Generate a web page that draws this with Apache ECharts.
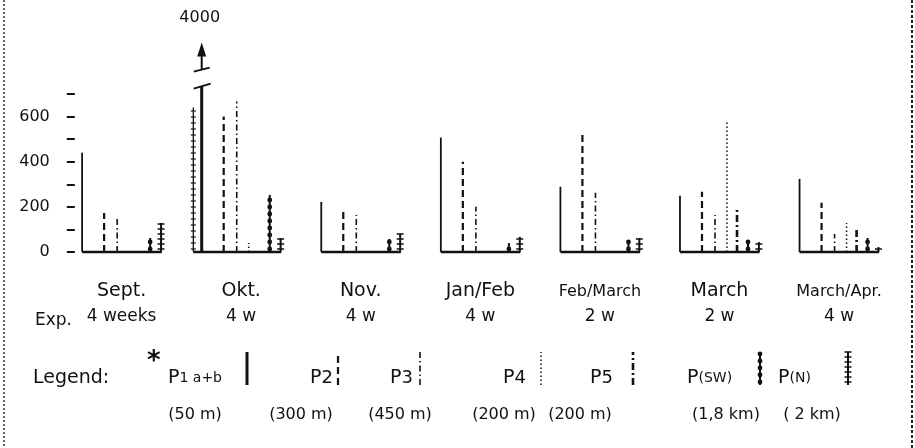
<!DOCTYPE html>
<html><head><meta charset="utf-8">
<script src="https://cdn.jsdelivr.net/npm/echarts@6/dist/echarts.min.js"></script>
<style>html,body{margin:0;padding:0;background:#fff}#c{width:915px;height:448px}</style>
</head><body><div id="c"></div>
<script>
// ---- data ----
const months = ['Sept.', 'Okt.', 'Nov.', 'Jan/Feb', 'Feb/March', 'March', 'March/Apr.'];
const durations = ['4 weeks', '4 w', '4 w', '4 w', '2 w', '2 w', '4 w'];
const p1  = [440, 4000, 222, 507, 289, 249, 324];
const p1b = [0, 640, 0, 0, 0, 0, 0];
const p2  = [173, 600, 187, 400, 520, 267, 218];
const p3  = [151, 667, 164, 200, 262, 164, 80];
const p4  = [0, 40, 0, 0, 0, 578, 129];
const p5  = [0, 0, 0, 0, 0, 196, 98];
const pSW = [62, 253, 58, 40, 53, 49, 62];
const pN  = [129, 62, 80, 67, 62, 44, 22];
const legendNames = ['P1 a+b', 'P2', 'P3', 'P4', 'P5', 'P(SW)', 'P(N)'];
const legendDist = ['(50 m)', '(300 m)', '(450 m)', '(200 m)', '(200 m)', '(1,8 km)', '( 2 km)'];

// ---- style / layout ----
const INK = '#111';
const FONT = 'DejaVu Sans';
const Y_MAX = 700;
const seriesDefs = [
  {name: 'P1',   data: p1,  kind: 'solid',    pos: -0.33},
  {name: 'P1b',  data: p1b, kind: 'ticked',   pos: -0.40},
  {name: 'P2',   data: p2,  kind: 'dashed',   pos: -0.146},
  {name: 'P3',   data: p3,  kind: 'dashdot',  pos: -0.037},
  {name: 'P4',   data: p4,  kind: 'dotted',   pos: 0.063},
  {name: 'P5',   data: p5,  kind: 'dashdot2', pos: 0.147},
  {name: 'P(SW)',data: pSW, kind: 'beaded',   pos: 0.239},
  {name: 'P(N)', data: pN,  kind: 'crossed',  pos: 0.33}
];
const legendKinds = ['solid', 'dashed', 'dashdot', 'dotted', 'dashdot2', 'beaded', 'crossed'];
const legendLabelX = [168, 310, 390, 503, 590, 687, 778];
const legendSymX = [247, 338, 420, 541, 633, 760, 848];
const legendDistX = [195, 301, 400, 504, 580, 726, 812];

function barShapes(kind, x, yb, yt, heavy) {
  const out = [];
  const ln = (x1, y1, x2, y2, w, dash) => out.push({type: 'line', shape: {x1, y1, x2, y2},
    style: {stroke: INK, lineWidth: w, lineDash: dash || null}});
  switch (kind) {
    case 'solid': ln(x, yb, x, yt, heavy ? 3 : 1.8); break;
    case 'ticked': ln(x, yb, x, yt, 1.3); for (let y = yb - 3; y > yt; y -= 6) ln(x - 2.5, y, x + 2.5, y, 1.2); break;
    case 'dashed': ln(x, yb, x, yt, 2.2, [7, 4]); break;
    case 'dashdot': ln(x, yb, x, yt, 1.6, [6, 3, 1.5, 3]); break;
    case 'dotted': ln(x, yb, x, yt, 1.5, [1.5, 2.5]); break;
    case 'dashdot2': ln(x, yb, x, yt, 2.6, [7, 3, 2, 3]); break;
    case 'beaded':
      ln(x, yb, x, yt, 2);
      for (let y = yb - 3; y >= yt; y -= 7) out.push({type: 'circle', shape: {cx: x, cy: y, r: 2.4}, style: {fill: INK}});
      break;
    case 'crossed':
      ln(x, yb, x, yt, 2);
      for (let y = yb - 3; y >= yt; y -= 5) ln(x - 3.5, y, x + 3.5, y, 1.5);
      break;
  }
  return out;
}

function makeRender(def) {
  return function (params, api) {
    const i = api.value(0), v = api.value(1);
    if (!v) return;
    const band = api.size([1, 0])[0];
    const base = api.coord([i, 0]);
    const x = base[0] + def.pos * band;
    const yb = base[1];
    const capped = v > Y_MAX;
    const yt = api.coord([i, capped ? Y_MAX * 1.047 : v])[1];
    const children = barShapes(def.kind, x, yb, yt, capped);
    if (capped) {
      const L = (x1, y1, x2, y2, w) => children.push({type: 'line', shape: {x1, y1, x2, y2}, style: {stroke: INK, lineWidth: w}});
      L(x - 8, yt + 2, x + 9, yt - 3, 1.8);
      L(x - 8, yt - 15, x + 8, yt - 19, 1.8);
      L(x, yt - 17, x, yt - 31, 2);
      children.push({type: 'polygon', shape: {points: [[x, yt - 44], [x - 4.5, yt - 30], [x + 4.5, yt - 30]]}, style: {fill: INK}});
      children.push({type: 'text', style: {text: String(v), x: x - 2, y: yt - 69, align: 'center', verticalAlign: 'middle',
        fontSize: 16, fontFamily: FONT, fill: INK}});
    }
    return {type: 'group', children};
  };
}

const series = seriesDefs.map(def => ({
  type: 'custom', name: def.name, clip: false,
  data: def.data.map((v, i) => [i, v]),
  encode: {x: 0, y: 1},
  renderItem: makeRender(def)
}));
series.unshift({
  type: 'custom', name: 'baseline', clip: false,
  data: months.map((m, i) => [i, 0]),
  encode: {x: 0, y: 1},
  renderItem: function (params, api) {
    const i = api.value(0);
    const band = api.size([1, 0])[0];
    const base = api.coord([i, 0]);
    const left = p1b[i] ? -0.40 : -0.33;
    return {type: 'line', shape: {x1: base[0] + left * band, y1: base[1], x2: base[0] + 0.335 * band, y2: base[1]},
      style: {stroke: INK, lineWidth: 2.5}};
  }
});

// ---- graphic (legend, frame) ----
const graphic = [];
graphic.push({type: 'line', shape: {x1: 4, y1: 0, x2: 4, y2: 448}, style: {stroke: '#333', lineWidth: 1.5, lineDash: [2, 2]}});
graphic.push({type: 'line', shape: {x1: 912, y1: 0, x2: 912, y2: 448}, style: {stroke: '#222', lineWidth: 2, lineDash: [3, 2]}});
graphic.push({type: 'text', left: 35, top: 312, style: {text: 'Exp.', fontSize: 17, fontFamily: FONT, fill: INK}});
graphic.push({type: 'text', left: 33, top: 369, style: {text: 'Legend:', fontSize: 19, fontFamily: FONT, fill: INK}});
graphic.push({type: 'text', left: 147, top: 349, style: {text: '*', fontSize: 26, fontWeight: 'bold', fontFamily: FONT, fill: INK}});
legendNames.forEach((n, k) => {
  const rest = n.slice(1);
  const small = rest.length > 1;
  graphic.push({type: 'text', left: legendLabelX[k], top: 369, style: {
    text: '{a|P}{' + (small ? 'b' : 'c') + '|' + rest + '}',
    rich: {a: {fontSize: 19, fontFamily: FONT, fill: INK},
           b: {fontSize: 14, fontFamily: FONT, fill: INK},
           c: {fontSize: 18, fontFamily: FONT, fill: INK}}}});
  graphic.push({type: 'group', children: barShapes(legendKinds[k], legendSymX[k], 385, 352, k === 0)});
  graphic.push({type: 'text', x: legendDistX[k], y: 415, style: {text: legendDist[k], align: 'center', verticalAlign: 'middle',
    fontSize: 16, fontFamily: FONT, fill: INK}});
});

const chart = echarts.init(document.getElementById('c'));
chart.setOption({
  animation: false,
  backgroundColor: '#fff',
  grid: {left: 61.8, right: 16.2, top: 94, bottom: 196},
  xAxis: {
    type: 'category', data: months,
    axisLine: {show: false}, axisTick: {show: false}, splitLine: {show: false},
    axisLabel: {
      interval: 0, margin: 27,
      formatter: (v, i) => '{' + (v.length > 7 ? 's' : 'm') + '|' + v + '}\n{d|' + durations[i] + '}',
      rich: {
        m: {fontSize: 19, fontFamily: FONT, color: INK, lineHeight: 25},
        s: {fontSize: 16, fontFamily: FONT, color: INK, lineHeight: 25},
        d: {fontSize: 17, fontFamily: FONT, color: INK, lineHeight: 25}
      }
    }
  },
  yAxis: {
    type: 'value', min: 0, max: Y_MAX, interval: 100, offset: -13,
    axisLine: {show: false}, splitLine: {show: false},
    axisTick: {show: true, length: 8, lineStyle: {color: INK, width: 2}},
    axisLabel: {formatter: v => (v % 200 === 0 ? String(v) : ''), margin: 25, fontSize: 16, fontFamily: FONT, color: INK}
  },
  graphic: graphic,
  series: series
});
</script></body></html>
